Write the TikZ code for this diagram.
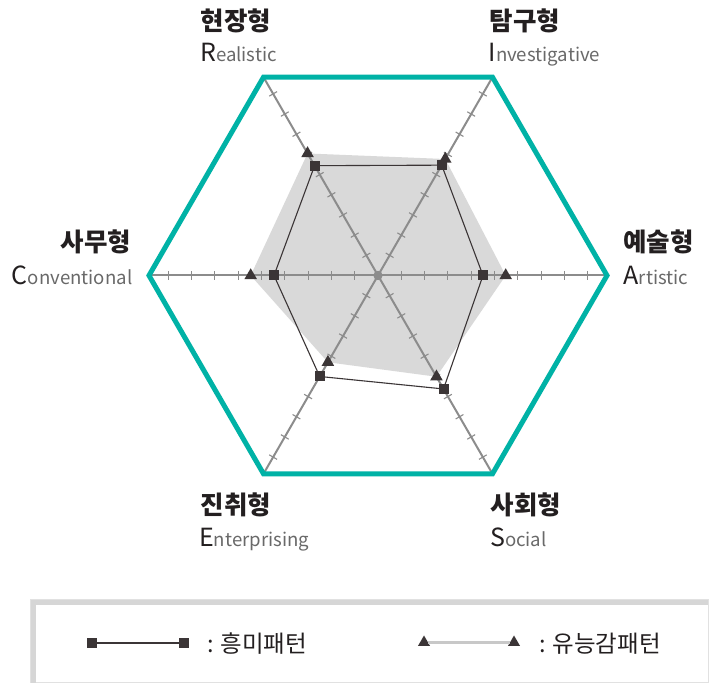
\documentclass[tikz,border=0pt]{standalone}
\usepackage{fontspec}
\setmainfont{Noto Sans CJK KR}
\usetikzlibrary{shapes.geometric,calc}
\definecolor{teal1}{RGB}{0,178,166}
\definecolor{axisgray}{RGB}{140,140,140}
\definecolor{fillgray}{RGB}{217,217,217}
\definecolor{mark}{RGB}{59,53,54}
\definecolor{txtdark}{RGB}{35,31,32}
\definecolor{txtgray}{RGB}{105,105,105}
\definecolor{legborder}{RGB}{214,214,214}
\definecolor{legthin}{RGB}{225,225,225}
\definecolor{trline}{RGB}{200,200,200}
\begin{document}
\begin{tikzpicture}[x=1pt,y=1pt,
  axisline/.style={draw=axisgray,line width=2pt},
  tickline/.style={draw=axisgray,line width=1.1pt},
  hexline/.style={draw=teal1,line width=5pt,line join=miter},
  sqline/.style={draw=mark,line width=1.1pt},
  sqmark/.style={rectangle,fill=mark,minimum size=10pt,inner sep=0pt,draw=none},
  trmark/.style={regular polygon,regular polygon sides=3,fill=mark,minimum size=14.5pt,inner sep=0pt,draw=none},
  kolabel/.style={inner sep=0pt,text=txtdark,font=\fontsize{25.5}{25.5}\selectfont\bfseries},
  enlabel/.style={inner sep=0pt,text=txtgray,font=\fontsize{18.6}{18.6}\selectfont},
  legtext/.style={inner sep=0pt,text=txtdark,anchor=base west,font=\fontsize{23.5}{23.5}\selectfont}
]
\newcommand{\bigfirst}[1]{{\fontsize{25}{25}\selectfont\color{txtdark}#1}}
\useasboundingbox (0,0) rectangle (709,684);
\fill[white] (0,0) rectangle (709,684);

\coordinate (O) at (378,408.5);
% axis end points (hexagon vertices)
\foreach \n/\a in {A/0,I/60,R/120,C/180,E/240,S/300}{
  \coordinate (v\n) at ([shift={(\a:229pt)}]O);
}
% data points
\foreach \n/\a/\s/\t in {R/120/126.8/140.9, I/60/127.4/134.5, A/0/105/127.7, S/300/131/116.9, E/240/116.6/100.2, C/180/104/127.3}{
  \coordinate (s\n) at ([shift={(\a:\s pt)}]O);
  \coordinate (t\n) at ([shift={(\a:\t pt)}]O);
}

% aptitude area
\fill[fillgray] (tR) -- (tI) -- (tA) -- (tS) -- (tE) -- (tC) -- cycle;

% axes
\draw[axisline] (vR) -- (vS);
\draw[axisline] (vI) -- (vE);
\draw[axisline] (vC) -- (vA);
\foreach \a in {0,60,...,300}{
  \foreach \k in {1,...,9}{
    \draw[tickline] ([shift={(\a:\k*23.3pt)}]O) ++(\a+90:4.5pt) -- ++(\a-90:9pt);
  }
}
\fill[axisgray] (O) circle (4.6pt);

% hexagon
\draw[hexline] (vA) -- (vI) -- (vR) -- (vC) -- (vE) -- (vS) -- cycle;

% interest polygon
\draw[sqline] (sR) -- (sI) -- (sA) -- (sS) -- (sE) -- (sC) -- cycle;

% markers
\foreach \n in {R,I,A,S,E,C}{
  \node[trmark] (trm\n) at (t\n) {};
  \node[sqmark] (sqm\n) at (s\n) {};
}

% labels
\node[kolabel,anchor=base west] (kR) at (200.5,653.5) {현장형};
\node[enlabel,anchor=base west] (eR) at (200,622) {\bigfirst{R}ealistic};
\node[kolabel,anchor=base west] (kI) at (489.5,653.5) {탐구형};
\node[enlabel,anchor=base west] (eI) at (488.5,622) {\bigfirst{I}nvestigative};
\node[kolabel,anchor=base east] (kC) at (131.5,432.5) {사무형};
\node[enlabel,anchor=base east] (eC) at (132.5,399) {\bigfirst{C}onventional};
\node[kolabel,anchor=base west] (kA) at (623,432.5) {예술형};
\node[enlabel,anchor=base west] (eA) at (623.5,399) {\bigfirst{A}rtistic};
\node[kolabel,anchor=base west] (kE) at (200.5,169) {진취형};
\node[enlabel,anchor=base west] (eE) at (199,137.3) {\bigfirst{E}nterprising};
\node[kolabel,anchor=base west] (kS) at (490.5,169) {사회형};
\node[enlabel,anchor=base west] (eS) at (490,137.3) {\bigfirst{S}ocial};

% legend box
\draw[legthin,line width=1.2pt] (31,84) rectangle (708.4,1.2);
\fill[legborder] (31,84) rectangle (708.4,79);
\fill[legborder] (31,84) rectangle (36,1.2);

\node[sqmark] (lsq1) at (92,41) {};
\node[sqmark] (lsq2) at (184,41) {};
\draw[sqline] (lsq1) -- (lsq2);
\node[legtext] (lt1) at (207,31) {: 흥미패턴};

\node[trmark,minimum size=14pt] (ltr1) at (424,41.5) {};
\node[trmark,minimum size=14pt] (ltr2) at (514,41.5) {};
\draw[draw=trline,line width=3pt] (ltr1) -- (ltr2);
\node[legtext] (lt2) at (539,31) {: 유능감패턴};
\end{tikzpicture}
\end{document}
